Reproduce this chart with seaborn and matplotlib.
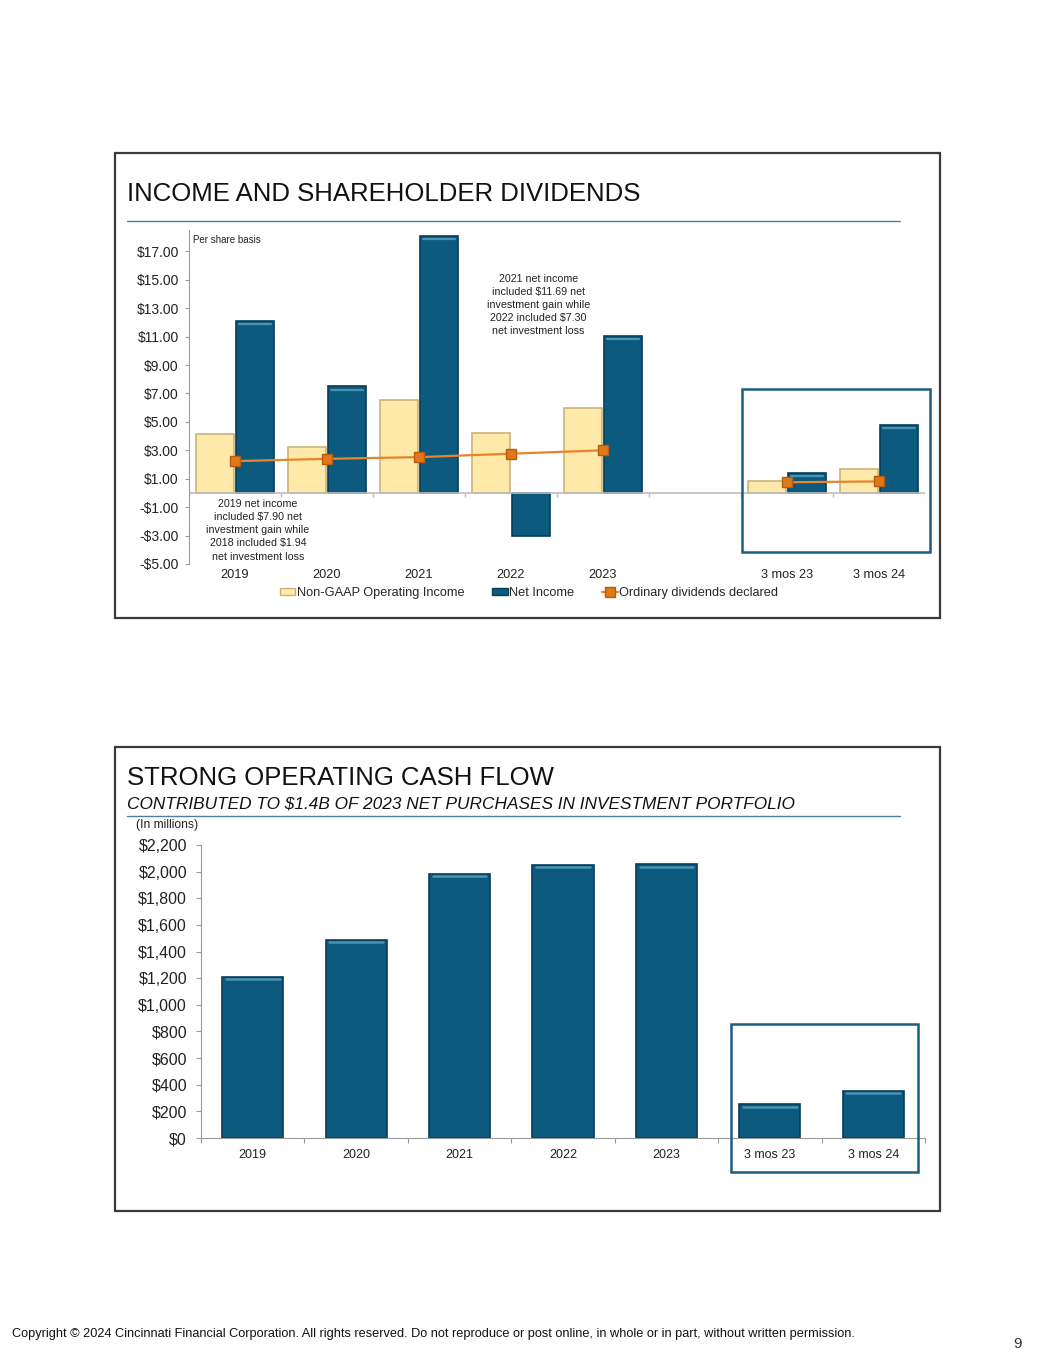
import matplotlib
matplotlib.use("Agg")
import numpy as np
import pandas as pd
import seaborn as sns
import matplotlib.pyplot as plt
from matplotlib.patches import Rectangle, Patch
from matplotlib.lines import Line2D

# ---------------- data ----------------
categories = ["2019", "2020", "2021", "2022", "2023", "", "3 mos 23", "3 mos 24"]
non_gaap_income = [4.15, 3.22, 6.55, 4.19, 5.98, np.nan, 0.87, 1.70]
net_income = [12.10, 7.49, 18.10, -3.06, 11.04, np.nan, 1.38, 4.78]
dividends = [2.24, 2.40, 2.52, 2.76, 3.00, np.nan, 0.75, 0.81]
series_names = ["Non-GAAP Operating Income", "Net Income", "Ordinary dividends declared"]
income_ticks = [-5, -3, -1, 1, 3, 5, 7, 9, 11, 13, 15, 17]

cash_categories = ["2019", "2020", "2021", "2022", "2023", "3 mos 23", "3 mos 24"]
cash_flow = [1210, 1490, 1985, 2050, 2055, 253, 355]
cash_ticks = [0, 200, 400, 600, 800, 1000, 1200, 1400, 1600, 1800, 2000, 2200]

# ---------------- style ----------------
sns.set_theme(style="white")
plt.rcParams["font.family"] = ["Liberation Sans", "DejaVu Sans"]
W, H = 1055, 1365
BLUE = "#0C5A7E"
BLUE_EDGE = "#083E58"
BLUE_HI = "#4A93B5"
YELLOW = "#FEE9A8"
YELLOW_EDGE = "#C9B47E"
ORANGE = "#E8852A"
BOX = "#1D5D80"
GRAY = "#9A9A9A"
TXT = "#222222"

fig = plt.figure(figsize=(W / 100, H / 100), dpi=100)
fig.patch.set_facecolor("white")


def fx(px):
    return px / W


def fy(py):
    return 1 - py / H


def frame(x0, y0, x1, y1, color, lw):
    fig.add_artist(Rectangle((fx(x0), fy(y1)), fx(x1) - fx(x0), fy(y0) - fy(y1),
                             transform=fig.transFigure, fill=False, ec=color, lw=lw, zorder=10))


# ---------------- panel frames / titles ----------------
frame(115, 153, 940, 618, "#3A3A3A", 1.6)
frame(115, 747, 940, 1211, "#3A3A3A", 1.6)

fig.text(fx(127), fy(201), "INCOME AND SHAREHOLDER DIVIDENDS", fontsize=18.5, color="#111111", va="baseline")
fig.add_artist(Line2D([fx(127), fx(900)], [fy(221), fy(221)], transform=fig.transFigure, color="#4F7F9C", lw=1.0))

fig.text(fx(127), fy(785), "STRONG OPERATING CASH FLOW", fontsize=18.5, color="#111111", va="baseline")
fig.text(fx(127), fy(808), "CONTRIBUTED TO $1.4B OF 2023 NET PURCHASES IN INVESTMENT PORTFOLIO",
         fontsize=12.45, style="italic", color="#111111", va="baseline")
fig.add_artist(Line2D([fx(127), fx(900)], [fy(816), fy(816)], transform=fig.transFigure, color="#4F7F9C", lw=1.0))

# ---------------- top chart ----------------
ax = fig.add_axes([fx(189), fy(564), fx(925) - fx(189), fy(230) - fy(564)])
df = pd.DataFrame({
    "category": categories * 2,
    "series": [series_names[0]] * len(categories) + [series_names[1]] * len(categories),
    "value": non_gaap_income + net_income,
})
sns.barplot(data=df, x="category", y="value", hue="series", order=categories,
            hue_order=series_names[:2], palette=[YELLOW, BLUE], width=0.87, gap=0.05,
            saturation=1, errorbar=None, legend=False, ax=ax, linewidth=1.2, edgecolor=BLUE_EDGE)
for p in ax.patches:
    fc = p.get_facecolor()
    if fc[0] > 0.8:
        p.set_edgecolor(YELLOW_EDGE)
    else:
        p.set_edgecolor(BLUE_EDGE)
        h = p.get_height()
        if h > 0.5:
            x0 = p.get_x()
            w = p.get_width()
            ax.plot([x0 + 0.08 * w, x0 + 0.92 * w], [h - 0.22, h - 0.22], color=BLUE_HI, lw=1.6, zorder=3)

ax.plot(np.arange(len(categories)), dividends, color=ORANGE, lw=1.6, marker="s", ms=7,
        mfc="#E07818", mec="#B85A10", zorder=5)

ax.axhline(0, color="#BDBDBD", lw=1.2, zorder=1)
ax.vlines(np.arange(-0.5, len(categories), 1), -0.3, 0, color="#BDBDBD", lw=1)
ax.set_xlim(-0.5, len(categories) - 0.5)
ax.set_ylim(-5, 18.5)
ax.set_yticks(income_ticks)
ax.set_yticklabels([f"${v:.2f}" if v >= 0 else f"-${-v:.2f}" for v in income_ticks], fontsize=10, color=TXT)
ax.set_xticks(range(len(categories)))
ax.set_xticklabels(categories, fontsize=9.2, color=TXT)
ax.tick_params(axis="x", length=0, pad=3.5)
ax.tick_params(axis="y", left=True, length=3, width=0.8, color=GRAY, pad=4.3)
for s in ["top", "right", "bottom"]:
    ax.spines[s].set_visible(False)
ax.spines["left"].set_color(GRAY)
ax.spines["left"].set_linewidth(0.8)
ax.set_xlabel("")
ax.set_ylabel("")
ax.set_facecolor("none")

fig.text(fx(193), fy(240), "Per share basis", fontsize=7, color=TXT, va="center")
ax.text(0.25, -2.64, "2019 net income\nincluded $7.90 net\ninvestment gain while\n2018 included $1.94\nnet investment loss",
        ha="center", va="center", fontsize=7.7, color=TXT, linespacing=1.38)
ax.text(3.30, 13.2, "2021 net income\nincluded $11.69 net\ninvestment gain while\n2022 included $7.30\nnet investment loss",
        ha="center", va="center", fontsize=7.7, color=TXT, linespacing=1.38)

frame(742, 389, 930, 552, BOX, 1.8)

handles = [Patch(facecolor=YELLOW, edgecolor=YELLOW_EDGE),
           Patch(facecolor=BLUE, edgecolor=BLUE_EDGE),
           Line2D([], [], color=ORANGE, lw=1.6, marker="s", ms=7, mfc="#E07818", mec="#B85A10")]
fig.legend(handles, series_names, loc="center", bbox_to_anchor=(fx(529), fy(593)), ncol=3,
           frameon=False, fontsize=9.2, handlelength=1.2, handleheight=0.5, handletextpad=0.1,
           columnspacing=2.2)

# ---------------- bottom chart ----------------
ax2 = fig.add_axes([fx(201), fy(1138), fx(925) - fx(201), fy(845) - fy(1138)])
sns.barplot(x=cash_categories, y=cash_flow, color=BLUE, width=0.59, saturation=1,
            errorbar=None, ax=ax2, linewidth=1.2, edgecolor=BLUE_EDGE)
for p in ax2.patches:
    x0 = p.get_x()
    w = p.get_width()
    h = p.get_height()
    ax2.plot([x0 + 0.06 * w, x0 + 0.94 * w], [h - 18, h - 18], color=BLUE_HI, lw=1.8, zorder=3)
ax2.set_xlim(-0.5, len(cash_categories) - 0.5)
ax2.set_ylim(0, 2200)
ax2.set_yticks(cash_ticks)
ax2.set_yticklabels([f"${v:,}" for v in cash_ticks], fontsize=11.5, color=TXT)
ax2.set_xticks(np.arange(-0.5, len(cash_categories), 1), minor=True)
ax2.tick_params(axis="x", which="major", length=0, pad=8, labelsize=9, labelcolor=TXT)
ax2.tick_params(axis="x", which="minor", bottom=True, length=3.5, width=0.8, color=GRAY)
ax2.tick_params(axis="y", left=True, length=3.5, width=0.8, color=GRAY, pad=6.5)
for s in ["top", "right"]:
    ax2.spines[s].set_visible(False)
for s in ["left", "bottom"]:
    ax2.spines[s].set_color(GRAY)
    ax2.spines[s].set_linewidth(0.8)
ax2.set_facecolor("none")
fig.text(fx(136), fy(825), "(In millions)", fontsize=8.7, color=TXT, va="center")

frame(731, 1024, 918, 1172, BOX, 1.8)

# ---------------- footer ----------------
fig.text(fx(12), fy(1337), "Copyright \u00a9 2024 Cincinnati Financial Corporation. All rights reserved. Do not reproduce or post online, in whole or in part, without written permission.",
         fontsize=9.2, color="#111111", va="baseline")
fig.text(fx(1022), fy(1348), "9", fontsize=11, color="#333333", ha="right", va="baseline")

fig.savefig("out.png", dpi=100)
